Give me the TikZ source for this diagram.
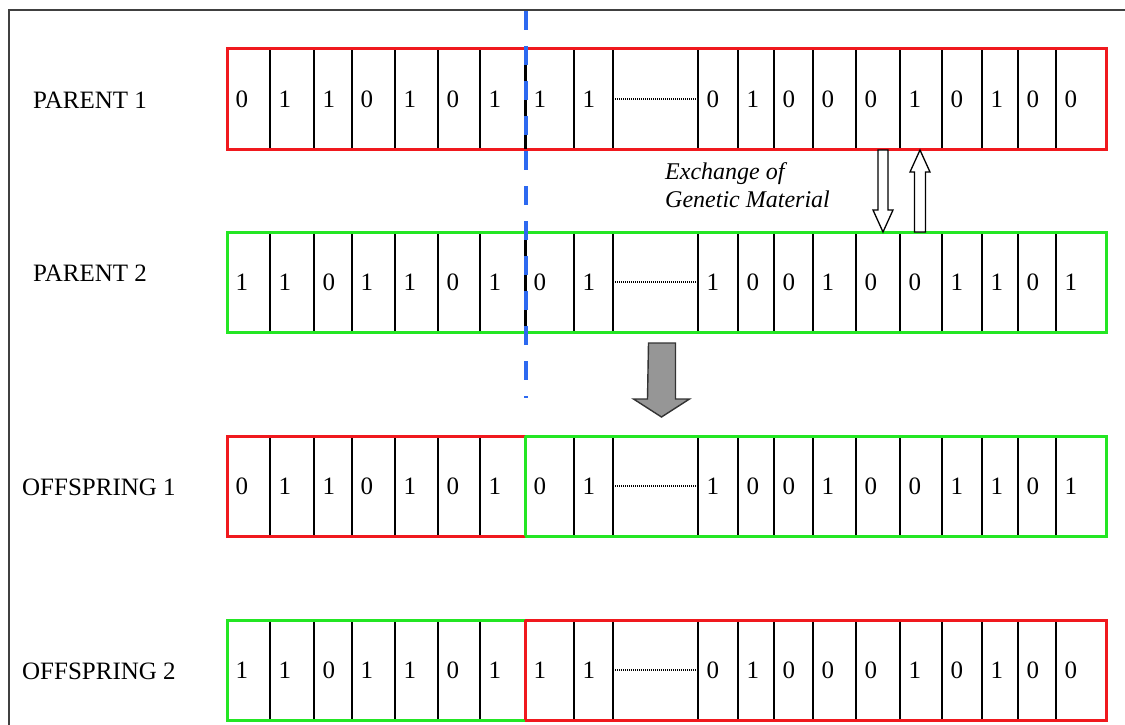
\documentclass[tikz,border=0pt]{standalone}
\usepackage{fontspec}
\setmainfont{Liberation Serif}
\usetikzlibrary{positioning}

\definecolor{chred}{RGB}{240,25,30}
\definecolor{chgreen}{RGB}{35,230,35}
\definecolor{cutblue}{RGB}{45,105,240}
\definecolor{arrgray}{RGB}{150,150,150}

\tikzset{
  cellline/.style={black, line width=1.4pt},
  digit/.style={anchor=west, inner sep=0pt, font=\fontsize{25}{28}\selectfont},
  rowlabel/.style={anchor=west, inner sep=0pt, font=\fontsize{25}{28}\selectfont},
  outline/.style={line width=3pt, line join=miter},
  hollow/.style={draw=black, fill=white, line width=1.3pt, line join=miter},
  cutline/.style={cutblue, line width=4pt, dash pattern=on 19pt off 16pt},
}

% границы клеток
\def\cellx{{227,270,314,352,395,438,480,525,574,613,698,738,774,813,856,900,942,982,1018,1056,1106}}

% хромосома: имя, верх, цвет слева, цвет справа, цвет разреза, гены
\newcommand{\chromosome}[6]{
  \pgfmathsetmacro\ytop{#2}
  \pgfmathsetmacro\ybot{#2+100}
  \pgfmathsetmacro\ymid{#2+50}
  \foreach \k in {1,...,19} {
    \pgfmathsetmacro\xk{\cellx[\k]}
    \draw[cellline] (\xk,\ytop) -- (\xk,\ybot);
  }
  \foreach \g [count=\k from 0] in {#6} {
    \pgfmathsetmacro\xk{\cellx[\k]+8.5}
    \node[digit] (#1-\k) at (\xk,\ymid) {\g};
  }
  \draw[black, line width=1.3pt, dash pattern=on 1pt off 1pt] (615,\ymid) -- (697,\ymid);
  \draw[outline, #3] (525,\ytop) -- (227,\ytop) -- (227,\ybot) -- (525,\ybot);
  \draw[outline, #4] (525,\ytop) -- (1106,\ytop) -- (1106,\ybot) -- (525,\ybot);
  \draw[outline, #5] (525,\ytop) -- (525,\ybot);
}

\begin{document}
\begin{tikzpicture}[x=1pt, y=-1pt]
\useasboundingbox (0,0) rectangle (1125,725);
% рамка
\draw[black!75, line width=1.5pt] (9,725) -- (9,10) -- (1125,10);

% подписи
\node[rowlabel] (lp1) at (33,100) {PARENT 1};
\node[rowlabel] (lp2) at (33,273) {PARENT 2};
\node[rowlabel] (lo1) at (22,487) {OFFSPRING 1};
\node[rowlabel] (lo2) at (22,671) {OFFSPRING 2};

% хромосомы
\chromosome{p1}{49}{chred}{chred}{black}{0,1,1,0,1,0,1,1,1,,0,1,0,0,0,1,0,1,0,0}
\chromosome{p2}{232}{chgreen}{chgreen}{black}{1,1,0,1,1,0,1,0,1,,1,0,0,1,0,0,1,1,0,1}
\chromosome{o1}{436}{chred}{chgreen}{chgreen}{0,1,1,0,1,0,1,0,1,,1,0,0,1,0,0,1,1,0,1}
\chromosome{o2}{620}{chgreen}{chred}{chred}{1,1,0,1,1,0,1,1,1,,0,1,0,0,0,1,0,1,0,0}

% точка разреза
\draw[cutline] (526,11) -- (526,398);

% обмен
\node[digit, align=left, font=\fontsize{24}{28}\itshape] (exch) at (665,185) {Exchange of\\Genetic Material};
\coordinate (dn) at (883,150);
\coordinate (up) at (920,232);
\draw[hollow] (dn) ++(-5,0) -- ++(10,0) -- ++(0,60) -- ++(5,0) -- ++(-10,22) -- ++(-10,-22) -- ++(5,0) -- cycle;
\draw[hollow] (up) ++(-5.5,0) -- ++(11,0) -- ++(0,-60) -- ++(4.5,0) -- ++(-10,-22) -- ++(-10,22) -- ++(4.5,0) -- cycle;

% серая стрелка
\coordinate (go) at (662,343);
\draw[fill=arrgray, draw=black!80, line width=1.4pt, line join=miter] (go) ++(-13.5,0) -- ++(27,0) -- ++(0,56) -- ++(14,0) -- ++(-28,18) -- ++(-28,-18) -- ++(14,0) -- cycle;
\end{tikzpicture}
\end{document}
